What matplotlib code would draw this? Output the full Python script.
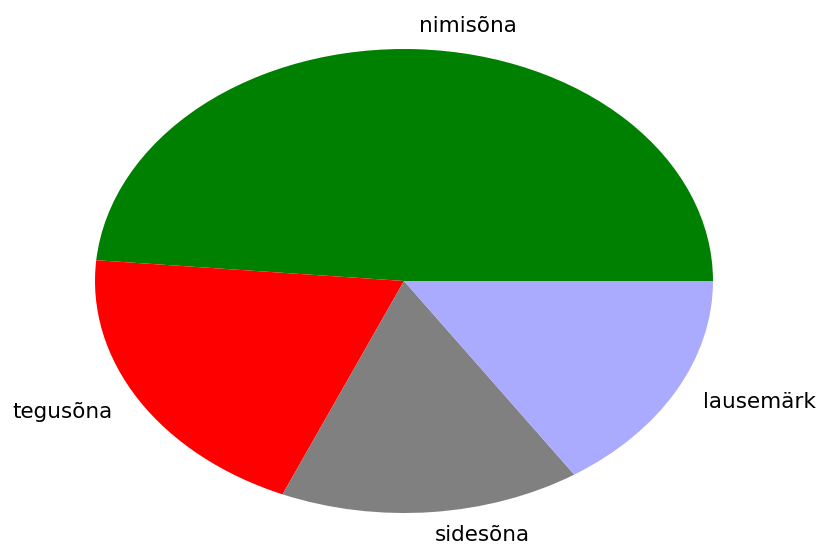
import matplotlib
matplotlib.use("Agg")
import matplotlib.pyplot as plt

labels = ["nimisõna", "tegusõna", "sidesõna", "lausemärk"]
counts = [34, 14, 11, 11]
colors = ["green", "red", "gray", "#aaaaff"]

fig = plt.figure(figsize=(8.19, 5.45), dpi=100)
ax = fig.add_axes([95 / 819, 32 / 545, 618 / 819, 464 / 545])
ax.pie(counts, labels=labels, colors=colors, startangle=0,
       textprops={"fontsize": 15.5})
ax.set_aspect("auto")
ax.set_xlim(-1.0, 1.0)
ax.set_ylim(-1.0, 1.0)
fig.savefig("out.png", dpi=100)
